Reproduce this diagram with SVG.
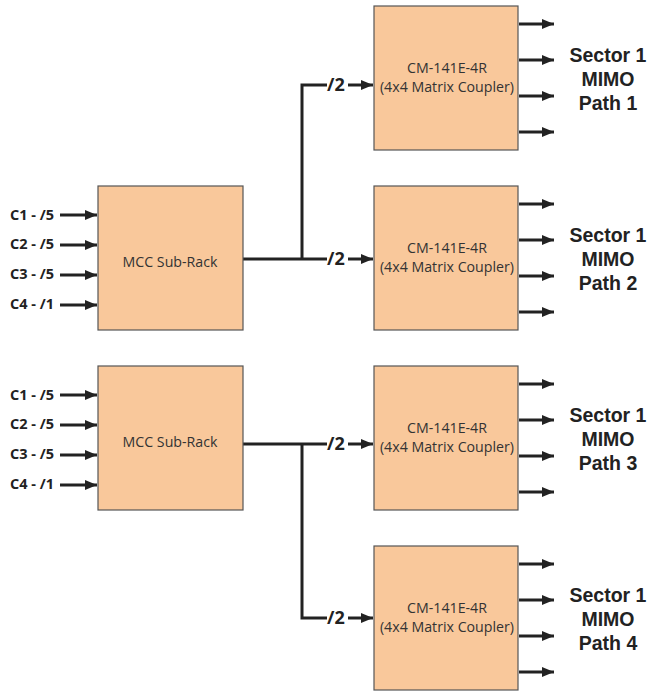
<svg xmlns="http://www.w3.org/2000/svg" width="649" height="692" viewBox="0 0 649 692">
<style>
.box{fill:#F9C89B;stroke:#555;stroke-width:1.2}
.bt{font-family:"Open Sans","Liberation Sans",sans-serif;font-size:14.2px;fill:#333;text-anchor:middle}
.lbl{font-family:"Open Sans","Liberation Sans",sans-serif;font-size:14.5px;font-weight:bold;fill:#222}
.two{font-family:"Open Sans","Liberation Sans",sans-serif;font-size:18px;font-weight:bold;fill:#222}
.sec{font-family:"Liberation Sans","Open Sans",sans-serif;font-size:19.5px;font-weight:bold;fill:#222;text-anchor:middle}
.ln{stroke:#222;stroke-width:3;fill:none}
</style>
<defs>
<marker id="ah" viewBox="0 0 12 10" refX="12" refY="5" markerWidth="12" markerHeight="10" markerUnits="userSpaceOnUse" orient="auto">
<path d="M0,0 L12,5 L0,10 Z" fill="#222"/>
</marker>
</defs>
<g id="connectors">
<g class="ln" marker-end="url(#ah)">
<line x1="60" y1="215" x2="97" y2="215"/>
<line x1="60" y1="245" x2="97" y2="245"/>
<line x1="60" y1="275" x2="97" y2="275"/>
<line x1="60" y1="305" x2="97" y2="305"/>
<line x1="60" y1="395" x2="97" y2="395"/>
<line x1="60" y1="425" x2="97" y2="425"/>
<line x1="60" y1="455" x2="97" y2="455"/>
<line x1="60" y1="485" x2="97" y2="485"/>
<line x1="348" y1="85" x2="373" y2="85"/>
<line x1="348" y1="259" x2="373" y2="259"/>
<line x1="348" y1="444" x2="373" y2="444"/>
<line x1="348" y1="618" x2="373" y2="618"/>
<line x1="519" y1="24" x2="554" y2="24"/>
<line x1="519" y1="60" x2="554" y2="60"/>
<line x1="519" y1="96" x2="554" y2="96"/>
<line x1="519" y1="132" x2="554" y2="132"/>
<line x1="519" y1="204" x2="554" y2="204"/>
<line x1="519" y1="240" x2="554" y2="240"/>
<line x1="519" y1="276" x2="554" y2="276"/>
<line x1="519" y1="312" x2="554" y2="312"/>
<line x1="519" y1="384" x2="554" y2="384"/>
<line x1="519" y1="420" x2="554" y2="420"/>
<line x1="519" y1="456" x2="554" y2="456"/>
<line x1="519" y1="492" x2="554" y2="492"/>
<line x1="519" y1="564" x2="554" y2="564"/>
<line x1="519" y1="600" x2="554" y2="600"/>
<line x1="519" y1="636" x2="554" y2="636"/>
<line x1="519" y1="672" x2="554" y2="672"/>
</g>
<path class="ln" d="M243,259 H327 M302,259 V85 H327"/>
<path class="ln" d="M243,444 H327 M302,444 V618 H327"/>
<text class="two" x="327" y="91">/2</text>
<text class="two" x="327" y="265">/2</text>
<text class="two" x="327" y="450">/2</text>
<text class="two" x="327" y="624">/2</text>
</g>
<g id="inputs1">
<text class="lbl" x="10" y="220">C1 - /5</text>
<text class="lbl" x="10" y="249">C2 - /5</text>
<text class="lbl" x="10" y="279">C3 - /5</text>
<text class="lbl" x="10" y="309">C4 - /1</text>
</g>
<g id="inputs2">
<text class="lbl" x="10" y="400">C1 - /5</text>
<text class="lbl" x="10" y="429">C2 - /5</text>
<text class="lbl" x="10" y="459">C3 - /5</text>
<text class="lbl" x="10" y="489">C4 - /1</text>
</g>
<g id="mcc1">
<rect class="box" x="98" y="186" width="145" height="144"/>
<text class="bt" x="170" y="267">MCC Sub-Rack</text>
</g>
<g id="mcc2">
<rect class="box" x="98" y="366" width="145" height="144"/>
<text class="bt" x="170" y="447">MCC Sub-Rack</text>
</g>
<g id="cm1">
<rect class="box" x="374" y="6" width="144" height="144"/>
<text class="bt" x="447" y="73">CM-141E-4R</text>
<text class="bt" x="447" y="92">(4x4 Matrix Coupler)</text>
</g>
<g id="cm2">
<rect class="box" x="374" y="186" width="144" height="144"/>
<text class="bt" x="447" y="253">CM-141E-4R</text>
<text class="bt" x="447" y="272">(4x4 Matrix Coupler)</text>
</g>
<g id="cm3">
<rect class="box" x="374" y="366" width="144" height="144"/>
<text class="bt" x="447" y="433">CM-141E-4R</text>
<text class="bt" x="447" y="452">(4x4 Matrix Coupler)</text>
</g>
<g id="cm4">
<rect class="box" x="374" y="546" width="144" height="144"/>
<text class="bt" x="447" y="613">CM-141E-4R</text>
<text class="bt" x="447" y="632">(4x4 Matrix Coupler)</text>
</g>
<g id="sector1">
<text class="sec" x="608" y="62">Sector 1</text>
<text class="sec" x="608" y="86">MIMO</text>
<text class="sec" x="608" y="110">Path 1</text>
</g>
<g id="sector2">
<text class="sec" x="608" y="242">Sector 1</text>
<text class="sec" x="608" y="266">MIMO</text>
<text class="sec" x="608" y="290">Path 2</text>
</g>
<g id="sector3">
<text class="sec" x="608" y="422">Sector 1</text>
<text class="sec" x="608" y="446">MIMO</text>
<text class="sec" x="608" y="470">Path 3</text>
</g>
<g id="sector4">
<text class="sec" x="608" y="602">Sector 1</text>
<text class="sec" x="608" y="626">MIMO</text>
<text class="sec" x="608" y="650">Path 4</text>
</g>
</svg>
